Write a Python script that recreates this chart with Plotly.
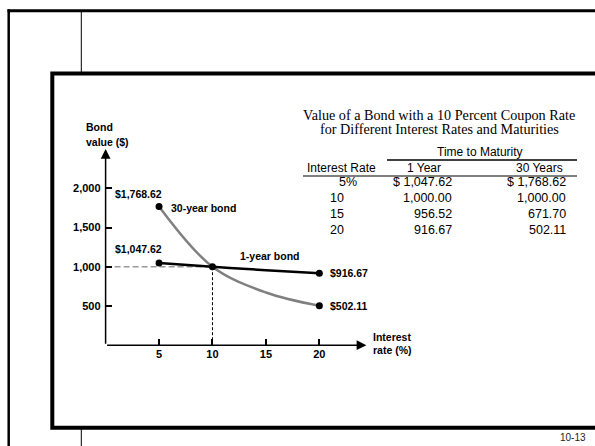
import plotly.graph_objects as go

# ---------------- data ----------------
rates = [5, 10, 15, 20]
one_year = [1047.62, 1000.00, 956.52, 916.67]
thirty_year = [1768.62, 1000.00, 671.70, 502.11]
x_ticks = [5, 10, 15, 20]
y_ticks = [500, 1000, 1500, 2000]
par_value = 1000
coupon_rate = 10
rate_labels = ["5%", "10", "15", "20"]
title_lines = ["Value of a Bond with a 10 Percent Coupon Rate",
               "for Different Interest Rates and Maturities"]
col_headers = ["Interest Rate", "1 Year", "30 Years"]
page_label = "10-13"

W, H = 595, 446
SANS = "Liberation Sans, Arial, sans-serif"
SERIF = "Liberation Serif, Times New Roman, serif"


def fx(p):
    return p / W


def fy(p):
    return 1 - p / H


def money(v, dollar=False):
    s = f"{v:,.2f}"
    return ("$ " + s) if dollar else s


fig = go.Figure()

# guide lines at par
fig.add_trace(go.Scatter(x=[0, coupon_rate], y=[par_value, par_value], mode="lines",
                         line=dict(color="#999999", width=1.5, dash="6px,3px"),
                         hoverinfo="skip", showlegend=False))
fig.add_trace(go.Scatter(x=[coupon_rate, coupon_rate], y=[0, par_value], mode="lines",
                         line=dict(color="black", width=1, dash="3px,2px"),
                         hoverinfo="skip", showlegend=False))
# curves
fig.add_trace(go.Scatter(x=rates, y=thirty_year, mode="lines",
                         line=dict(color="#808080", width=2.5, shape="spline"),
                         showlegend=False))
fig.add_trace(go.Scatter(x=rates, y=one_year, mode="lines",
                         line=dict(color="black", width=2.5, shape="spline"),
                         showlegend=False))
# end markers
fig.add_trace(go.Scatter(x=[rates[0], rates[-1]], y=[thirty_year[0], thirty_year[-1]],
                         mode="markers", marker=dict(color="black", size=7),
                         showlegend=False))
fig.add_trace(go.Scatter(x=[rates[0], rates[1], rates[-1]],
                         y=[one_year[0], one_year[1], one_year[-1]],
                         mode="markers", marker=dict(color="black", size=7),
                         showlegend=False))

bold = dict(family=SANS, size=10.5, color="black", weight="bold")
tickbold = dict(family=SANS, size=11, color="black", weight="bold")
ann = []
# axis arrows
ann.append(dict(x=24.4, y=0, ax=0, ay=0, xref="x", yref="y", axref="x", ayref="y",
                text="", showarrow=True, arrowhead=2, arrowsize=1.3, arrowwidth=1.5,
                arrowcolor="black", standoff=0, startstandoff=0))
ann.append(dict(x=0, y=2500, ax=0, ay=0, xref="x", yref="y", axref="x", ayref="y",
                text="", showarrow=True, arrowhead=2, arrowsize=1.3, arrowwidth=1.5,
                arrowcolor="black", standoff=0, startstandoff=0))
# point labels
ann.append(dict(x=rates[0], y=thirty_year[0], text="$" + money(thirty_year[0]),
                xshift=-21, yshift=12, showarrow=False, font=bold))
ann.append(dict(x=rates[0], y=one_year[0], text="$" + money(one_year[0]),
                xshift=-21, yshift=14, showarrow=False, font=bold))
ann.append(dict(x=rates[0], y=thirty_year[0], text="30-year bond", xanchor="left",
                xshift=10, yshift=-2, showarrow=False, font=bold))
ann.append(dict(x=rates[2], y=one_year[2], text="1-year bond",
                xshift=4, yshift=14, showarrow=False, font=bold))
ann.append(dict(x=rates[-1], y=one_year[-1], text="$" + money(one_year[-1]),
                xanchor="left", xshift=9, yshift=0, showarrow=False, font=bold))
ann.append(dict(x=rates[-1], y=thirty_year[-1], text="$" + money(thirty_year[-1]),
                xanchor="left", xshift=9, yshift=0, showarrow=False, font=bold))
# axis titles
for txt, y in [("Bond", 127), ("value ($)", 142)]:
    ann.append(dict(x=fx(84), y=fy(y), xref="paper", yref="paper", text=txt,
                    xanchor="left", yanchor="middle", showarrow=False, font=bold))
for txt, y in [("Interest", 337), ("rate (%)", 350)]:
    ann.append(dict(x=fx(371), y=fy(y), xref="paper", yref="paper", text=txt,
                    xanchor="left", yanchor="middle", showarrow=False, font=bold))

# table
tfont = dict(family=SANS, size=12, color="black")
nfont = dict(family=SANS, size=12.5, color="black")
for txt, y in zip(title_lines, [115, 129]):
    ann.append(dict(x=fx(439), y=fy(y), xref="paper", yref="paper", text=txt,
                    xanchor="center", yanchor="middle", showarrow=False,
                    font=dict(family=SERIF, size=14.2, color="black")))
ann.append(dict(x=fx(480), y=fy(152), xref="paper", yref="paper", text="Time to Maturity",
                xanchor="center", yanchor="middle", showarrow=False, font=tfont))
for txt, cx in zip(col_headers, [341, 424, 539]):
    ann.append(dict(x=fx(cx), y=fy(168), xref="paper", yref="paper", text=txt,
                    xanchor="center", yanchor="middle", showarrow=False, font=tfont))
row_y = [182, 198, 214, 230]
for i, (lab, a, b, ry) in enumerate(zip(rate_labels, one_year, thirty_year, row_y)):
    if i == 0:
        ann.append(dict(x=fx(337), y=fy(ry), xref="paper", yref="paper", text=lab,
                        xanchor="left", yanchor="middle", showarrow=False, font=nfont))
    else:
        ann.append(dict(x=fx(346), y=fy(ry), xref="paper", yref="paper", text=lab,
                        xanchor="right", yanchor="middle", showarrow=False, font=nfont))
    ann.append(dict(x=fx(454), y=fy(ry), xref="paper", yref="paper",
                    text=money(a, dollar=(i == 0)), xanchor="right", yanchor="middle",
                    showarrow=False, font=nfont))
    ann.append(dict(x=fx(568), y=fy(ry), xref="paper", yref="paper",
                    text=money(b, dollar=(i == 0)), xanchor="right", yanchor="middle",
                    showarrow=False, font=nfont))
ann.append(dict(x=fx(588), y=fy(437), xref="paper", yref="paper", text=page_label,
                xanchor="right", yanchor="middle", showarrow=False,
                font=dict(family=SANS, size=10, color="#222222")))

shapes = [
    # table rules
    dict(type="line", xref="paper", yref="paper", x0=fx(387), x1=fx(577), y0=fy(160), y1=fy(160),
         line=dict(color="black", width=1.5)),
    dict(type="line", xref="paper", yref="paper", x0=fx(303), x1=fx(577), y0=fy(176), y1=fy(176),
         line=dict(color="black", width=1.2)),
    # outer frame
    dict(type="line", xref="paper", yref="paper", x0=fx(7.5), x1=fx(600), y0=fy(10.7), y1=fy(10.7),
         line=dict(color="black", width=3)),
    dict(type="line", xref="paper", yref="paper", x0=fx(8.7), x1=fx(8.7), y0=fy(9.3), y1=fy(450),
         line=dict(color="black", width=2.5)),
    # thin vertical line
    dict(type="line", xref="paper", yref="paper", x0=fx(81.3), x1=fx(81.3), y0=fy(10.7), y1=fy(73.5),
         line=dict(color="black", width=1)),
    dict(type="line", xref="paper", yref="paper", x0=fx(81.3), x1=fx(81.3), y0=fy(427.7), y1=fy(450),
         line=dict(color="black", width=1)),
    # inner frame
    dict(type="rect", xref="paper", yref="paper", x0=fx(52.3), x1=fx(620), y0=fy(73.5), y1=fy(427.7),
         line=dict(color="black", width=4)),
]

fig.update_layout(
    width=W, height=H, margin=dict(l=0, r=0, t=0, b=0),
    paper_bgcolor="white", plot_bgcolor="rgba(0,0,0,0)",
    showlegend=False, annotations=ann, shapes=shapes,
    xaxis=dict(domain=[105.6 / W, 372.8 / W], range=[0, 25], showgrid=False, zeroline=False,
               showline=False, ticks="inside", ticklen=6, tickwidth=1.5, tickcolor="black",
               tickvals=x_ticks, ticktext=[str(v) for v in x_ticks], tickfont=tickbold,
               ticklabelstandoff=1),
    yaxis=dict(domain=[(H - 345.2) / H, (H - 141.2) / H], range=[0, 2600], showgrid=False,
               zeroline=False, showline=False, ticks="inside", ticklen=6, tickwidth=1.5,
               tickcolor="black", tickvals=y_ticks, ticktext=[f"{v:,}" for v in y_ticks],
               tickfont=tickbold, ticklabelstandoff=4),
)

fig.write_html("out.html", config={"displayModeBar": False},
               post_script="document.body.style.margin='0';document.body.style.padding='0';")
